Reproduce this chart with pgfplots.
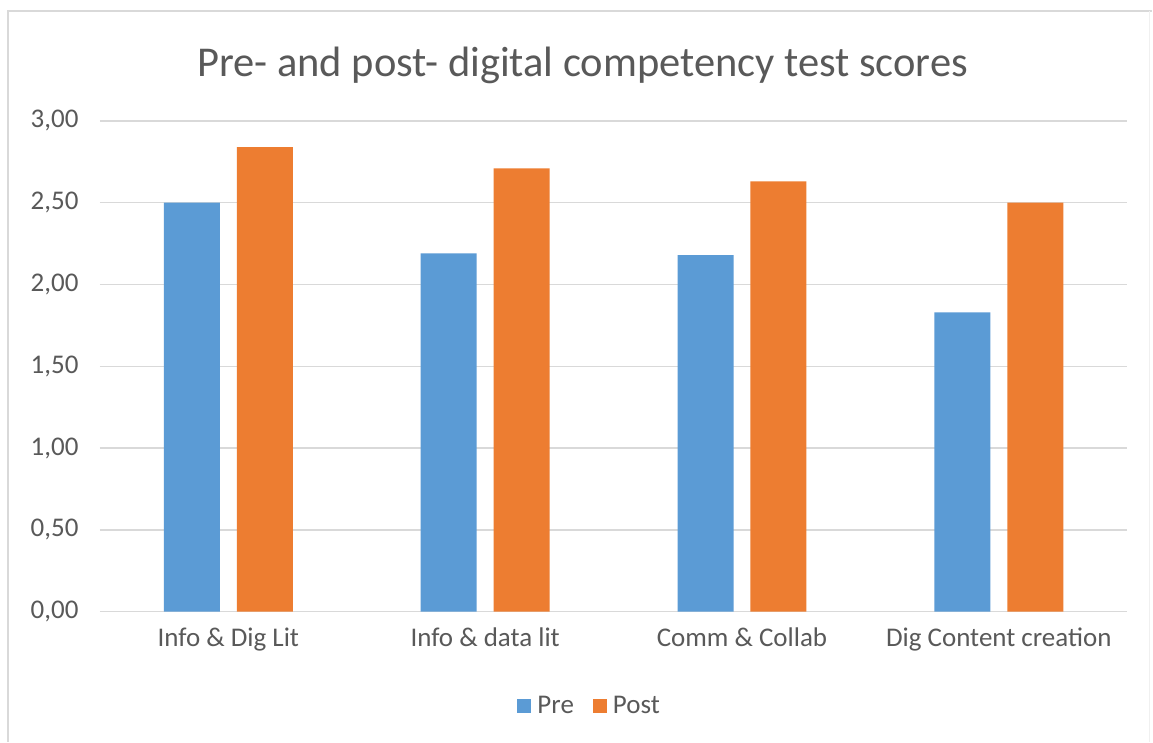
\documentclass[border=0pt]{standalone}
\usepackage{pgfplots}
\pgfplotsset{compat=1.18}
\usepackage{fontspec}
\setmainfont{Carlito}
\definecolor{preblue}{HTML}{5B9BD5}
\definecolor{postorange}{HTML}{ED7D31}
\definecolor{txtgray}{HTML}{595959}
\definecolor{gridgray}{HTML}{D9D9D9}
\begin{document}
\begin{tikzpicture}
\path[fill=white] (-100pt,-130pt) rectangle (1053pt,612pt);
\draw[gridgray, line width=1.5pt] (-92pt,-130pt) -- (-92pt,601pt) -- (1053pt,601pt);
\draw[gridgray!40, line width=1pt] (1050pt,601pt) -- (1050pt,-130pt);
\begin{axis}[
  at={(0pt,0pt)}, anchor=south west,
  scale only axis,
  width=1028pt, height=491pt,
  xmin=-0.5, xmax=3.5,
  ymin=0, ymax=3,
  ytick={0,0.5,1,1.5,2,2.5,3},
  xtick={0,1,2,3},
  xticklabels={Info \& Dig Lit, Info \& data lit, Comm \& Collab, Dig Content creation},
  ymajorgrids,
  grid style={gridgray, line width=1.5pt},
  axis line style={draw=none},
  major tick length=0pt,
  tick label style={font=\fontsize{27}{30}\selectfont, text=txtgray},
  yticklabel style={xshift=-18pt, /pgf/number format/.cd, fixed, fixed zerofill, precision=2, use comma, assume math mode=true},
  xticklabel style={yshift=-13pt},
  ytick pos=left,
  title={Pre- and post- digital competency test scores},
  title style={font=\fontsize{42.5}{46}\selectfont, text=txtgray, at={(0.5,1)}, xshift=-31pt, yshift=50pt, anchor=center},
  ybar,
  bar width=0.218,
  legend style={at={(0.4767,-0.1914)}, anchor=center, draw=none, fill=none, legend columns=2,
    font=\fontsize{27}{30}\selectfont, text=txtgray,
    /tikz/every odd column/.append style={column sep=4pt},
    /tikz/every even column/.append style={column sep=17pt}},
  legend image code/.code={\fill[#1] (0pt,-7pt) rectangle (14pt,7pt);},
]
\addplot[fill=preblue, draw=none, bar shift=-0.142] coordinates {(0,2.50) (1,2.19) (2,2.18) (3,1.83)};
\addplot[fill=postorange, draw=none, bar shift=0.142] coordinates {(0,2.84) (1,2.71) (2,2.63) (3,2.50)};
\legend{Pre, Post}
\end{axis}
\end{tikzpicture}
\end{document}
